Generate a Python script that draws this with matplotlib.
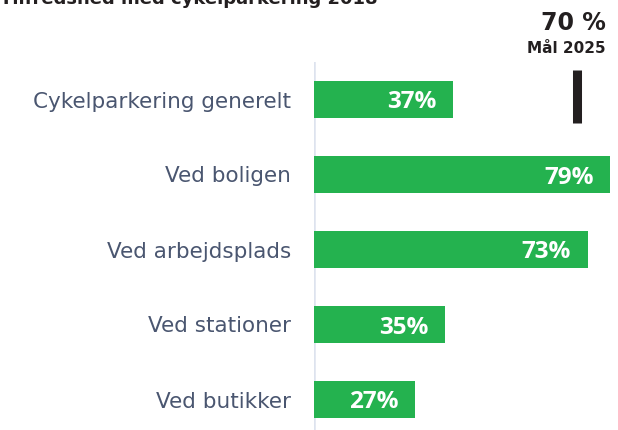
import matplotlib.pyplot as plt

categories = ["Cykelparkering generelt", "Ved boligen", "Ved arbejdsplads",
              "Ved stationer", "Ved butikker"]
values = [37, 79, 73, 35, 27]
target = 70
target_label = "70 %"
target_sub = "Mål 2025"
title = "Tilfredshed med cykelparkering 2018"

W, H = 618, 430
fig = plt.figure(figsize=(W / 100, H / 100), dpi=100)
fig.patch.set_facecolor("white")

# axes placed in pixel terms
left, right, top, bottom = 314, 618, 62, 430
ax = fig.add_axes([left / W, 1 - bottom / H, (right - left) / W, (bottom - top) / H])
px_per_unit = 3.75
ax.set_xlim(0, (right - left) / px_per_unit)
ax.set_ylim(4 + 30.5 / 75, -0.5)

green = "#24b24f"
ys = list(range(len(categories)))
ax.barh(ys, values, height=0.49, color=green, zorder=2)

for y, v in zip(ys, values):
    ax.annotate(f"{v}%", xy=(v, y), xytext=(-12, 0), textcoords="offset points",
                ha="right", va="center_baseline", color="white", fontsize=17.5,
                fontweight="bold", family=["Open Sans", "DejaVu Sans"])

for y, c in zip(ys, categories):
    ax.annotate(c, xy=(0, y), xytext=(-16.5, 0), textcoords="offset points",
                ha="right", va="center_baseline", color="#4a5670", fontsize=15.5,
                family=["DejaVu Sans"], annotation_clip=False)

# target marker
ax.vlines(target, -0.39, 0.31, color="#231f20", lw=6.5, zorder=3)
ax.annotate(target_label, xy=(target, -0.5), xytext=(-2.5, 28), textcoords="offset points",
            ha="center", va="center", fontsize=17, fontweight="bold", color="#231f20",
            annotation_clip=False)
ax.annotate(target_sub, xy=(target, -0.5), xytext=(-7.5, 9.5), textcoords="offset points",
            ha="center", va="center", fontsize=11, fontweight="bold", color="#231f20",
            annotation_clip=False)

ax.axvline(0, color="#dde3ee", lw=1.8, zorder=1)
ax.set_xticks([])
ax.set_yticks([])
for s in ax.spines.values():
    s.set_visible(False)
ax.patch.set_alpha(0)

# title sits mostly above the canvas, as in the reference
fig.text(0.0, 1 - 4.5 / H, title, ha="left", va="baseline", fontsize=13,
         fontweight="bold", color="#231f20")

fig.savefig("out.png", dpi=100, facecolor="white")
